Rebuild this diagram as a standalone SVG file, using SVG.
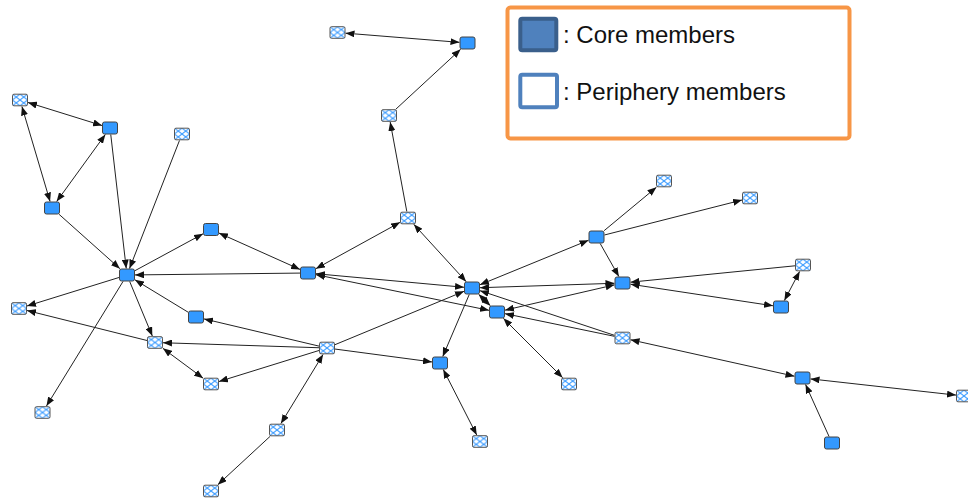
<svg xmlns="http://www.w3.org/2000/svg" width="968" height="501" viewBox="0 0 968 501">
  <style>
    .edge { stroke: #222; stroke-width: 1; fill: none; }
    .one { marker-end: url(#arrow); }
    .two { marker-start: url(#arrow); marker-end: url(#arrow); }
    .core rect { fill: #3399ff; stroke: #444; stroke-width: 1; }
    .peri rect { fill: url(#hatch); stroke: #555; stroke-width: 1; }
    .legend-text { font-family: "Liberation Sans", Arial, sans-serif; font-size: 24px; fill: #111; }
  </style>
  <defs>
    <marker id="arrow" markerUnits="userSpaceOnUse" markerWidth="9" markerHeight="7" refX="9" refY="3.5" orient="auto-start-reverse">
      <path d="M0,0 L9,3.5 L0,7 z" fill="#111"/>
    </marker>
    <pattern id="hatch" patternUnits="objectBoundingBox" width="0.5" height="0.5">
      <rect width="7.5" height="5.75" fill="#fff"/>
      <path d="M0,0 L7.5,5.75 M0,5.75 L7.5,0" stroke="#3c9cff" stroke-width="1.1"/>
    </pattern>
  </defs>
  <rect width="968" height="501" fill="#fff"/>

  <!-- legend -->
  <g id="legend">
    <rect x="507.5" y="7.5" width="342" height="131" rx="3" fill="#fff" stroke="#f79646" stroke-width="4"/>
    <rect x="520.3" y="18.7" width="36" height="31.6" rx="2" fill="#4f81bd" stroke="#3a5f8b" stroke-width="4"/>
    <rect x="520.3" y="74.7" width="36.7" height="32.6" rx="2" fill="#fff" stroke="#4f81bd" stroke-width="4"/>
    <text class="legend-text" x="563" y="43">: Core members</text>
    <text class="legend-text" x="563" y="100">: Periphery members</text>
  </g>

  <!-- connectors -->
  <g id="edges">
    <line class="edge two" x1="345.5" y1="33.15" x2="459.5" y2="42.35"/>
    <line class="edge one" x1="395.86" y1="109.16" x2="460.64" y2="49.34"/>
    <line class="edge one" x1="406.8" y1="211.5" x2="390.2" y2="122"/>
    <line class="edge two" x1="27.97" y1="102.48" x2="102.03" y2="125.52"/>
    <line class="edge two" x1="21.92" y1="106.48" x2="50.08" y2="201.52"/>
    <line class="edge two" x1="105.36" y1="134.4" x2="56.64" y2="201.6"/>
    <line class="edge one" x1="110.75" y1="134.5" x2="126.25" y2="268.5"/>
    <line class="edge one" x1="179.48" y1="140.47" x2="129.52" y2="268.53"/>
    <line class="edge one" x1="59.09" y1="214.34" x2="119.91" y2="268.66"/>
    <line class="edge one" x1="134.94" y1="270.7" x2="203.06" y2="233.8"/>
    <line class="edge two" x1="218.96" y1="233.07" x2="300.04" y2="269.43"/>
    <line class="edge one" x1="300" y1="273.09" x2="135" y2="274.91"/>
    <line class="edge one" x1="188.07" y1="312.17" x2="134.93" y2="279.83"/>
    <line class="edge one" x1="129.68" y1="281.47" x2="152.32" y2="336.03"/>
    <line class="edge one" x1="119.03" y1="277.47" x2="26.97" y2="306.03"/>
    <line class="edge one" x1="123.05" y1="281.42" x2="46.45" y2="406.08"/>
    <line class="edge one" x1="147.02" y1="340.5" x2="26.98" y2="310.5"/>
    <line class="edge one" x1="319" y1="347.74" x2="163" y2="342.76"/>
    <line class="edge one" x1="319.01" y1="346.11" x2="203.99" y2="318.89"/>
    <line class="edge two" x1="162.91" y1="348.36" x2="203.09" y2="378.14"/>
    <line class="edge one" x1="319.03" y1="350.47" x2="218.97" y2="381.53"/>
    <line class="edge two" x1="323.08" y1="354.43" x2="280.92" y2="423.57"/>
    <line class="edge one" x1="270.14" y1="436.34" x2="217.86" y2="484.66"/>
    <line class="edge two" x1="400.06" y1="222.37" x2="315.94" y2="268.63"/>
    <line class="edge two" x1="413.82" y1="224.37" x2="466.18" y2="281.63"/>
    <line class="edge two" x1="316" y1="273.73" x2="464" y2="287.27"/>
    <line class="edge two" x1="315.99" y1="274.65" x2="489.01" y2="310.35"/>
    <line class="edge one" x1="334.96" y1="344.7" x2="464.04" y2="291.3"/>
    <line class="edge one" x1="335" y1="349.06" x2="432" y2="361.94"/>
    <line class="edge one" x1="469.25" y1="294.46" x2="442.75" y2="356.54"/>
    <line class="edge two" x1="443.28" y1="369.44" x2="476.72" y2="435.06"/>
    <line class="edge two" x1="588.54" y1="240.26" x2="479.96" y2="284.74"/>
    <line class="edge two" x1="480" y1="287.73" x2="614.5" y2="283.27"/>
    <line class="edge two" x1="504.99" y1="310.15" x2="614.51" y2="284.85"/>
    <line class="edge two" x1="478.61" y1="294.34" x2="490.39" y2="305.66"/>
    <line class="edge one" x1="614.53" y1="335.35" x2="479.97" y2="290.65"/>
    <line class="edge one" x1="614.51" y1="336.34" x2="504.99" y2="313.66"/>
    <line class="edge two" x1="630.49" y1="339.77" x2="794.51" y2="376.23"/>
    <line class="edge two" x1="503.36" y1="318.36" x2="562.64" y2="377.64"/>
    <line class="edge one" x1="604.12" y1="230.68" x2="656.38" y2="187.32"/>
    <line class="edge one" x1="604.49" y1="234.97" x2="742.01" y2="200.03"/>
    <line class="edge one" x1="600.14" y1="243.43" x2="618.86" y2="276.57"/>
    <line class="edge one" x1="795" y1="265.8" x2="630.5" y2="282.2"/>
    <line class="edge two" x1="630.5" y1="284.21" x2="773" y2="305.79"/>
    <line class="edge two" x1="799.63" y1="271.44" x2="784.37" y2="300.56"/>
    <line class="edge two" x1="810.5" y1="378.89" x2="956" y2="395.11"/>
    <line class="edge one" x1="829.07" y1="436.54" x2="805.57" y2="384.46"/>
  </g>

  <!-- core members -->
  <g id="c1" class="core"><rect x="460" y="37" width="15" height="12" rx="2"/></g>
  <g id="c2" class="core"><rect x="102.5" y="122" width="15" height="12" rx="2"/></g>
  <g id="c3" class="core"><rect x="44.5" y="202" width="15" height="12" rx="2"/></g>
  <g id="c4" class="core"><rect x="203.5" y="223.5" width="15" height="12" rx="2"/></g>
  <g id="c5" class="core"><rect x="119.5" y="269" width="15" height="12" rx="2"/></g>
  <g id="c6" class="core"><rect x="300.5" y="267" width="15" height="12" rx="2"/></g>
  <g id="c7" class="core"><rect x="464.5" y="282" width="15" height="12" rx="2"/></g>
  <g id="c8" class="core"><rect x="489.5" y="306" width="15" height="12" rx="2"/></g>
  <g id="c9" class="core"><rect x="188.5" y="311" width="15" height="12" rx="2"/></g>
  <g id="c10" class="core"><rect x="589" y="231" width="15" height="12" rx="2"/></g>
  <g id="c11" class="core"><rect x="615" y="277" width="15" height="12" rx="2"/></g>
  <g id="c12" class="core"><rect x="773.5" y="301" width="15" height="12" rx="2"/></g>
  <g id="c13" class="core"><rect x="432.5" y="357" width="15" height="12" rx="2"/></g>
  <g id="c14" class="core"><rect x="795" y="372" width="15" height="12" rx="2"/></g>
  <g id="c15" class="core"><rect x="824.5" y="437" width="15" height="12" rx="2"/></g>

  <!-- periphery members -->
  <g id="p1" class="peri"><rect x="330" y="26.7" width="15" height="11.6" rx="1.5"/></g>
  <g id="p2" class="peri"><rect x="12.5" y="94.2" width="15" height="11.6" rx="1.5"/></g>
  <g id="p3" class="peri"><rect x="174.5" y="128.2" width="15" height="11.6" rx="1.5"/></g>
  <g id="p4" class="peri"><rect x="381.5" y="109.7" width="15" height="11.6" rx="1.5"/></g>
  <g id="p5" class="peri"><rect x="400.5" y="212.2" width="15" height="11.6" rx="1.5"/></g>
  <g id="p6" class="peri"><rect x="656.5" y="175.2" width="15" height="11.6" rx="1.5"/></g>
  <g id="p7" class="peri"><rect x="742.5" y="192.2" width="15" height="11.6" rx="1.5"/></g>
  <g id="p8" class="peri"><rect x="795.5" y="259.2" width="15" height="11.6" rx="1.5"/></g>
  <g id="p9" class="peri"><rect x="11.5" y="302.7" width="15" height="11.6" rx="1.5"/></g>
  <g id="p10" class="peri"><rect x="147.5" y="336.7" width="15" height="11.6" rx="1.5"/></g>
  <g id="p11" class="peri"><rect x="319.5" y="342.2" width="15" height="11.6" rx="1.5"/></g>
  <g id="p12" class="peri"><rect x="203.5" y="378.2" width="15" height="11.6" rx="1.5"/></g>
  <g id="p13" class="peri"><rect x="615" y="332.2" width="15" height="11.6" rx="1.5"/></g>
  <g id="p14" class="peri"><rect x="561.5" y="378.2" width="15" height="11.6" rx="1.5"/></g>
  <g id="p15" class="peri"><rect x="472.5" y="435.7" width="15" height="11.6" rx="1.5"/></g>
  <g id="p16" class="peri"><rect x="35" y="406.7" width="15" height="11.6" rx="1.5"/></g>
  <g id="p17" class="peri"><rect x="269.5" y="424.2" width="15" height="11.6" rx="1.5"/></g>
  <g id="p18" class="peri"><rect x="203.5" y="485.2" width="15" height="11.6" rx="1.5"/></g>
  <g id="p19" class="peri"><rect x="956.5" y="390.2" width="15" height="11.6" rx="1.5"/></g>
</svg>
